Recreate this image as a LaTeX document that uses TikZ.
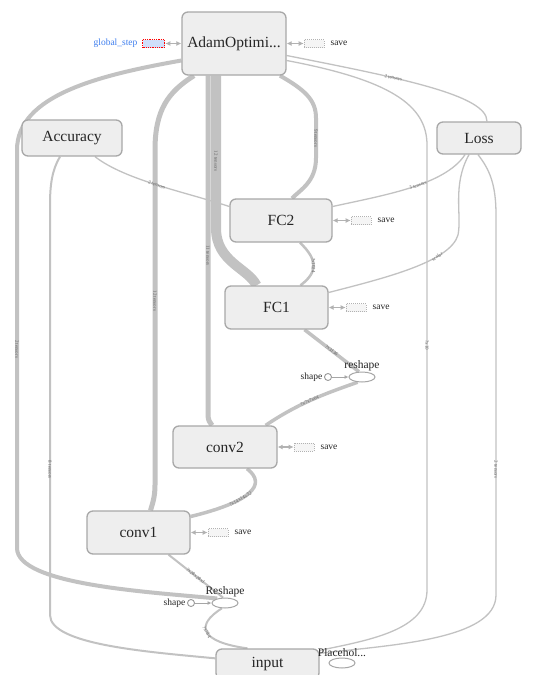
\documentclass[tikz,border=0pt]{standalone}
\usepackage{fontspec}
\setmainfont{Liberation Serif}
\usetikzlibrary{positioning,shapes.geometric,arrows.meta,calc}
\definecolor{edgegray}{HTML}{C2C2C2}
\definecolor{nodefill}{HTML}{EEEEEE}
\definecolor{nodeline}{HTML}{A8A8A8}
\definecolor{stepblue}{HTML}{3F7FEF}
\definecolor{labelgray}{HTML}{666666}
\pgfdeclarelayer{background}
\pgfsetlayers{background,main}

\tikzset{
  opbox/.style={draw=nodeline, fill=nodefill, rounded corners=6, line width=1.3, font=\fontsize{15.5}{15.5}\selectfont, text=black!85},
  tedge/.style={draw=edgegray, line width=#1},
  elabel/.style={font=\fontsize{5}{5}\selectfont, text=labelgray, inner sep=0.5},
  savebox/.style={draw=gray!60, dash pattern=on 1pt off 1pt, fill=gray!8, minimum width=20, minimum height=8, inner sep=0},
  reflink/.style={draw=gray!60, line width=1.2, {Latex[length=5pt,width=5pt]}-{Latex[length=5pt,width=5pt]}},
  constlink/.style={draw=gray!70, line width=1, -{Latex[length=4pt,width=4pt]}},
  smalltext/.style={font=\fontsize{9.5}{9.5}\selectfont, text=black!85},
  optext/.style={font=\fontsize{11.5}{11.5}\selectfont, text=black!85},
  opellipse/.style={ellipse, draw=gray!70, fill=white, line width=1, minimum width=26, minimum height=10, inner sep=0},
  constdot/.style={circle, draw=gray!80, line width=0.9, fill=white, minimum size=7, inner sep=0},
}

\begin{document}
\begin{tikzpicture}[x=1pt,y=-1pt]
  \useasboundingbox (0,0) rectangle (539,675);
  \clip (0,0) rectangle (539,675);

  % op nodes
  \node[opbox, minimum width=104, minimum height=63] (adam) at (234,43.5) {AdamOptimi...};
  \node[opbox, minimum width=100, minimum height=36] (accuracy) at (72,138) {Accuracy};
  \node[opbox, minimum width=84, minimum height=32] (loss) at (479,138) {Loss};
  \node[opbox, minimum width=102, minimum height=43] (fctwo) at (281,220.5) {FC2};
  \node[opbox, minimum width=103, minimum height=43] (fcone) at (276.5,307.5) {FC1};
  \node[opbox, minimum width=104, minimum height=42] (convtwo) at (225,447) {conv2};
  \node[opbox, minimum width=103, minimum height=43] (convone) at (138.5,532.5) {conv1};
  \node[opbox, minimum width=103, minimum height=30] (input) at (267.5,664) {input};

  % small ops
  \node[opellipse, label={[optext, inner sep=0.5]above:reshape}] (reshapeop) at (362,377) {};
  \node[constdot, label={[smalltext, inner sep=1.5]left:shape}] (shapeone) at (328,377) {};
  \node[opellipse, label={[optext, inner sep=0.5]above:Reshape}] (bigreshapeop) at (225,603) {};
  \node[constdot, label={[smalltext, inner sep=1.5]left:shape}] (shapetwo) at (191,603) {};
  \node[opellipse, label={[optext, inner sep=0.5]above:Placehol...}] (placeholder) at (342,663) {};
  \draw[constlink] (shapeone) -- (reshapeop);
  \draw[constlink] (shapetwo) -- (bigreshapeop);

  % variables and savers
  \node[savebox, draw=red, fill=stepblue!25, dash pattern=on 1pt off 0.8pt, line width=1.4, minimum width=22, left=16 of adam] (stepvar) {};
  \node[smalltext, text=stepblue, left=1 of stepvar] (steptext) {global\_step};
  \draw[reflink] (stepvar) -- (adam);
  \foreach \op/\gap in {adam/17, fctwo/18, fcone/17, convtwo/16, convone/17} {
    \node[savebox, right=\gap of \op] (\op save) {};
    \node[smalltext, right=3 of \op save] {save};
    \draw[reflink] (\op) -- (\op save);
  }

  \begin{pgfonlayer}{background}
  \fill[white] (0,0) rectangle (539,675);
  % edges out of AdamOptimizer
  \draw[tedge=4] ($(adam.west)+(0,17)$) .. controls (100,75) and (17,95) .. (17,150)
    -- node[elabel, rotate=-90] {2 tensors} (17,548) .. controls (17,585) and (150,592) .. (bigreshapeop.150);
  \draw[tedge=5] ($(adam.south)+(-40,0)$) .. controls (168,92) and (155,110) .. (155,150)
    -- node[elabel, rotate=-90, pos=0.45] {12 tensors} (155,485) .. controls (155,498) and (152,505) .. ($(convone.north)+(12,0)$);
  \draw[tedge=5] ($(adam.south)+(-26,0)$)
    -- node[elabel, rotate=-90, pos=0.53] {11 tensors} (208,415) .. controls (208,420) and (210,423) .. ($(convtwo.north)+(-13,0)$);
  \draw[tedge=10] ($(adam.south)+(-18,0)$)
    -- node[elabel, rotate=-90, pos=0.56] {12 tensors} (216,228) .. controls (216,262) and (248,268) .. ($(fcone.north)+(-20,0)$);
  \draw[tedge=4] ($(adam.south)+(46,0)$) .. controls (305,90) and (316,100) .. (316,118)
    -- node[elabel, rotate=-90] {9 tensors} (316,158) .. controls (316,182) and (300,190) .. ($(fctwo.north)+(11,0)$);
  \draw[tedge=1.3] ($(adam.east)+(0,12)$) .. controls (400,78) and (487,95) .. node[elabel, sloped, pos=0.35] {2 tensors} ($(loss.north)+(8,0)$);
  \draw[tedge=1.3] ($(adam.east)+(0,17)$) .. controls (390,80) and (427,105) .. (427,145)
    -- node[elabel, rotate=-90, pos=0.45] {?x10} (427,590) .. controls (427,630) and (370,640) .. ($(input.north east)+(0,2)$);

  % edges out of Accuracy and Loss
  \draw[tedge=2] ($(accuracy.south)+(-12,0)$) .. controls (52,170) and (50,185) .. (50,205)
    -- node[elabel, rotate=-90, pos=0.646] {8 tensors} (50,615) .. controls (50,645) and (150,652) .. ($(input.north west)+(0,10)$);
  \draw[tedge=1.3] ($(accuracy.south)+(23,0)$) .. controls (125,180) and (185,192) .. node[elabel, sloped] {2 tensors} ($(fctwo.west)+(0,-14)$);
  \draw[tedge=1.3] ($(loss.south)+(-1,0)$) .. controls (490,170) and (496,185) .. (496,215)
    -- node[elabel, rotate=-90, pos=0.67] {2 tensors} (496,595) .. controls (496,640) and (390,645) .. ($(input.north east)+(0,5)$);
  \draw[tedge=1.3] ($(loss.south)+(-14,0)$) .. controls (445,185) and (385,195) .. node[elabel, sloped, pos=0.45] {3 tensors} ($(fctwo.east)+(0,-14)$);
  \draw[tedge=1.3] ($(loss.south)+(-10,0)$) .. controls (452,185) and (462,215) .. (458,235)
    .. controls (450,262) and (385,278) .. node[elabel, sloped, pos=0.3] {scalar} ($(fcone.east)+(0,-15)$);

  % main data path
  \draw[tedge=2.5] ($(fctwo.south)+(19,0)$) .. controls (318,260) and (318,272) .. node[elabel, sloped] {?x1024} ($(fcone.north)+(24,0)$);
  \draw[tedge=3.5] ($(fcone.south)+(28,0)$) -- node[elabel, sloped] {?x3136} (reshapeop.120);
  \draw[tedge=3.5] (reshapeop.230) .. controls (330,392) and (300,402) .. node[elabel, sloped, pos=0.55] {?x7x7x64} ($(convtwo.north east)+(-12,0)$);
  \draw[tedge=3.5] ($(convtwo.south)+(22,0)$) .. controls (268,485) and (250,502) .. node[elabel, sloped, pos=0.62] {?x14x14x32} ($(convone.east)+(0,-16)$);
  \draw[tedge=2] ($(convone.south)+(30,0)$) -- node[elabel, sloped] {?x28x28x1} (bigreshapeop.110);
  \draw[tedge=2] (bigreshapeop.240) .. controls (195,625) and (200,642) .. node[elabel, sloped] {?x784} ($(input.north)+(-20,0)$);
  \end{pgfonlayer}
\end{tikzpicture}
\end{document}
